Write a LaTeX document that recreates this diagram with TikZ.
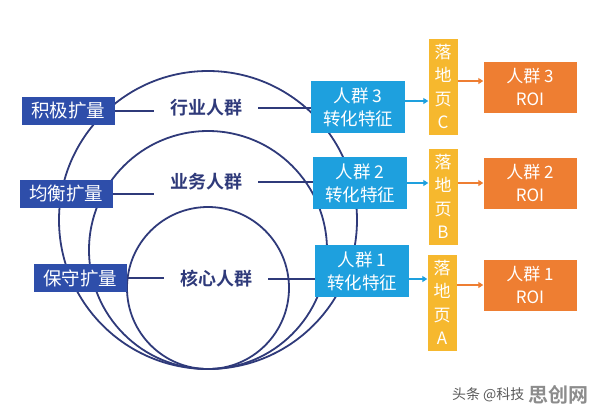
\documentclass[tikz,border=0pt]{standalone}
\usepackage{fontspec}
\newfontfamily\cjk{Noto Sans CJK SC}[BoldFont={Noto Sans CJK SC Bold}]
\usetikzlibrary{arrows.meta,calc}

\definecolor{navy}{RGB}{47,58,122}
\definecolor{kuoblue}{RGB}{46,78,170}
\definecolor{skyblue}{RGB}{30,160,222}
\definecolor{ldyellow}{RGB}{246,184,46}
\definecolor{roiorange}{RGB}{238,126,50}

\tikzset{
  ring/.style={draw=navy, line width=1.8pt},
  link/.style={draw=navy, line width=1.5pt},
  kuobox/.style={fill=kuoblue, text=white, inner sep=0pt, minimum width=93pt, minimum height=28pt,
    font=\cjk\fontsize{18.5}{20}\selectfont},
  qunlabel/.style={text=navy, inner xsep=16pt, font=\cjk\bfseries\fontsize{18}{20}\selectfont},
  featbox/.style={fill=skyblue, text=white, inner sep=0pt, minimum width=94pt, minimum height=52pt,
    align=center, font=\cjk\fontsize{17.5}{23}\selectfont},
  pagebox/.style={fill=ldyellow, text=white, inner sep=0pt, minimum width=29pt, minimum height=96pt,
    align=center, font=\cjk\fontsize{17}{23.5}\selectfont},
  roibox/.style={fill=roiorange, text=white, inner sep=0pt, minimum width=93pt, minimum height=51pt,
    align=center, font=\cjk\fontsize{17}{23}\selectfont},
  barrow/.style={draw=skyblue, line width=1.2pt, -{Triangle[length=5pt,width=6pt]}},
  oarrow/.style={draw=roiorange, line width=1.2pt, -{Triangle[length=5pt,width=6pt]}},
}

\begin{document}
\begin{tikzpicture}[x=1pt, y=-1pt]
    \useasboundingbox (0,0) rectangle (596,416);

    % 三个圆(底部相切)
    \draw[ring] (208,220) circle [radius=149pt];
    \draw[ring] (208,250) circle [radius=119pt];
    \draw[ring] (208,288) circle [radius=81pt];

    % 人群名称
    \node[qunlabel] (hy) at (206,108) {行业人群};
    \node[qunlabel] (yw) at (206,182) {业务人群};
    \node[qunlabel] (hx) at (216,279) {核心人群};

    % 扩量方式
    \node[kuobox] (jj) at (68,111) {积极扩量};
    \node[kuobox] (jh) at (66,194) {均衡扩量};
    \node[kuobox] (bs) at (80,278) {保守扩量};

    % 转化特征
    \node[featbox] (r3) at (358,107) {人群 3\\转化特征};
    \node[featbox] (r2) at (360,183) {人群 2\\转化特征};
    \node[featbox] (r1) at (362,271) {人群 1\\转化特征};

    % 落地页
    \node[pagebox] (pc) at (443,86.5) {落\\地\\页\\C};
    \node[pagebox] (pb) at (443,196.5) {落\\地\\页\\B};
    \node[pagebox] (pa) at (442,302.5) {落\\地\\页\\A};

    % ROI
    \node[roibox] (o3) at (530,87) {人群 3\\ROI};
    \node[roibox] (o2) at (530,183) {人群 2\\ROI};
    \node[roibox] (o1) at (530,285) {人群 1\\ROI};

    % 连线
    \draw[link] (jj.east) -- (jj.east -| hy.west);
    \draw[link] (hy.east) -- (hy.east -| r3.west);
    \draw[link] (jh.east) -- (jh.east -| yw.west);
    \draw[link] (yw.east) -- (yw.east -| r2.west);
    \draw[link] (bs.east) -- (bs.east -| hx.west);
    \draw[link] (hx.east) -- (hx.east -| r1.west);

    % 箭头
    \draw[barrow] ([yshift=6pt]r3.east) -- ([yshift=6pt]r3.east -| pc.west);
    \draw[barrow] (r2.east) -- (r2.east -| pb.west);
    \draw[barrow] ([yshift=-8pt]r1.east) -- ([yshift=-8pt]r1.east -| pa.west);
    \draw[oarrow] ([yshift=6pt]o3.west -| pc.east) -- ([yshift=6pt]o3.west);
    \draw[oarrow] (o2.west -| pb.east) -- (o2.west);
    \draw[oarrow] (o1.west -| pa.east) -- (o1.west);

    % 水印
    \node[anchor=east, text=black!65, font=\cjk\fontsize{14}{16}\selectfont] (wm1) at (528,395) {头条 @科技};
    \node[anchor=west, text=black!45, inner xsep=0pt, font=\cjk\bfseries\fontsize{20}{22}\selectfont] (wm2) at (wm1.east) {思创网};
\end{tikzpicture}
\end{document}
